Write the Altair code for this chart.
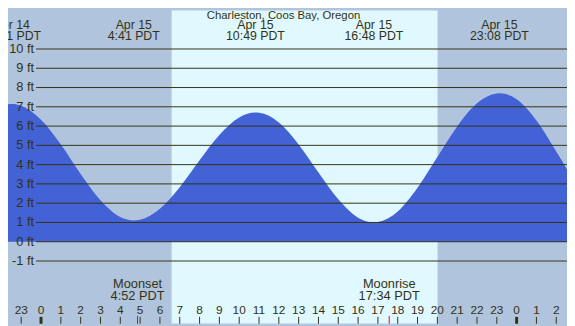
import altair as alt
import pandas as pd

# ---- data ----
tide_hours = [-2, -1.48, -1, 0, 1, 2, 3, 4, 4.68, 5, 6, 7, 8, 9, 10, 10.82, 11, 12, 13, 14,
              15, 16, 16.8, 17, 18, 19, 20, 21, 22, 23, 23.13, 24, 25, 26, 27]
tide_ft = [7.05, 7.15, 7.06, 6.33, 5.04, 3.51, 2.15, 1.28, 1.10, 1.14, 1.71, 2.83, 4.23, 5.54,
           6.45, 6.70, 6.69, 6.19, 5.05, 3.59, 2.20, 1.25, 1.00, 1.02, 1.57, 2.80, 4.39, 5.98,
           7.18, 7.69, 7.70, 7.39, 6.29, 4.68, 2.95]

event_hours = [-1.48, 4.68, 10.82, 16.8, 23.13]
event_dates = ["Apr 14", "Apr 15", "Apr 15", "Apr 15", "Apr 15"]
event_times = ["22:31 PDT", "4:41 PDT", "10:49 PDT", "16:48 PDT", "23:08 PDT"]

moon_hours = [4.87, 17.57]
moon_names = ["Moonset", "Moonrise"]
moon_times = ["4:52 PDT", "17:34 PDT"]

band_start = [-2, 6.59, 20.02]
band_end = [6.59, 20.02, 27]
band_kind = ["night", "day", "night"]

grid_ft = [10, 9, 8, 7, 6, 5, 4, 3, 2, 1, 0, -1]
grid_labels = ["10 ft", "9 ft", "8 ft", "7 ft", "6 ft", "5 ft", "4 ft", "3 ft", "2 ft",
               "1 ft", "0 ft", "-1 ft"]

hour_ticks = list(range(-2, 27))
hour_labels = ["22", "23"] + [str(h) for h in range(24)] + ["0", "1", "2"]

title_text = "Charleston, Coos Bay, Oregon"

# ---- styling ----
W, H = 567, 318
FONT = "Liberation Sans"
INK = "#333311"
BLUE = "#4262d6"
NIGHT = "#b0c4de"
DAY = "#e0f8ff"

xs = alt.Scale(domain=[-1.667, 26.542], nice=False, zero=False)
ys = alt.Scale(domain=[-4.256, 12.01], nice=False, zero=False)

tide = pd.DataFrame({"hour": tide_hours, "ft": tide_ft})
events = pd.DataFrame({"hour": event_hours, "date": event_dates, "time": event_times})
moon = pd.DataFrame({"hour": moon_hours, "name": moon_names, "time": moon_times})
bands = pd.DataFrame({"start": band_start, "end": band_end, "kind": band_kind})
grid = pd.DataFrame({"ft": grid_ft, "label": grid_labels})
hours = pd.DataFrame({"hour": hour_ticks, "label": hour_labels,
                      "w": [3 if lab == "0" else 1 for lab in hour_labels]})

bg = alt.Chart(bands).mark_rect(clip=True).encode(
    x=alt.X("start:Q", scale=xs, axis=None), x2="end:Q",
    y=alt.value(0), y2=alt.value(H),
    color=alt.Color("kind:N", scale=alt.Scale(domain=["night", "day"], range=[NIGHT, DAY]),
                    legend=None))

area = alt.Chart(tide).mark_area(clip=True, interpolate="monotone", color=BLUE).encode(
    x=alt.X("hour:Q", scale=xs, axis=None),
    y=alt.Y("ft:Q", scale=ys, axis=None),
    y2=alt.value(H))

gridlines = alt.Chart(grid).mark_rule(color=INK, strokeWidth=1).encode(
    x=alt.value(28.5), x2=alt.value(W),
    y=alt.Y("ft:Q", scale=ys, axis=None))

ylabels = alt.Chart(grid).mark_text(align="right", baseline="middle", font=FONT,
                                    fontSize=13, color=INK).encode(
    x=alt.value(26.5), y=alt.Y("ft:Q", scale=ys, axis=None), text="label:N")

top_date = alt.Chart(events).mark_text(align="center", baseline="alphabetic", font=FONT,
                                       fontSize=12.5, color=INK).encode(
    x=alt.X("hour:Q", scale=xs, axis=None), y=alt.value(19), text="date:N")
top_time = alt.Chart(events).mark_text(align="center", baseline="alphabetic", font=FONT,
                                       fontSize=12.5, color=INK).encode(
    x=alt.X("hour:Q", scale=xs, axis=None), y=alt.value(30.5), text="time:N")

ticks = alt.Chart(hours).mark_rule(color=INK).encode(
    x=alt.X("hour:Q", scale=xs, axis=None), y=alt.value(311), y2=alt.value(H),
    strokeWidth=alt.StrokeWidth("w:Q", scale=None))
hlabels = alt.Chart(hours).mark_text(align="center", baseline="alphabetic", font=FONT,
                                     fontSize=12, color=INK).encode(
    x=alt.X("hour:Q", scale=xs, axis=None), y=alt.value(308.5), text="label:N")

moon_ticks = alt.Chart(moon).mark_rule(color="#ff0000", strokeWidth=1).encode(
    x=alt.X("hour:Q", scale=xs, axis=None), y=alt.value(310), y2=alt.value(H))
moon_name = alt.Chart(moon).mark_text(align="center", baseline="alphabetic", font=FONT,
                                      fontSize=13, color=INK).encode(
    x=alt.X("hour:Q", scale=xs, axis=None), y=alt.value(282), text="name:N")
moon_time = alt.Chart(moon).mark_text(align="center", baseline="alphabetic", font=FONT,
                                      fontSize=13, color=INK).encode(
    x=alt.X("hour:Q", scale=xs, axis=None), y=alt.value(294), text="time:N")

title = alt.Chart(pd.DataFrame({"t": [title_text]})).mark_text(
    align="center", baseline="alphabetic", font=FONT, fontSize=11.5, color=INK).encode(
    x=alt.value(279.5), y=alt.value(8.5), text="t:N")

chart = alt.layer(bg, area, gridlines, ylabels, top_date, top_time, ticks, hlabels,
                  moon_ticks, moon_name, moon_time, title).properties(
    width=W, height=H, autosize=alt.AutoSizeParams(type="none"), padding=0,
    background=NIGHT
).configure_view(stroke=None)

chart.save("out.html", embed_options={"renderer": "svg", "actions": False})
